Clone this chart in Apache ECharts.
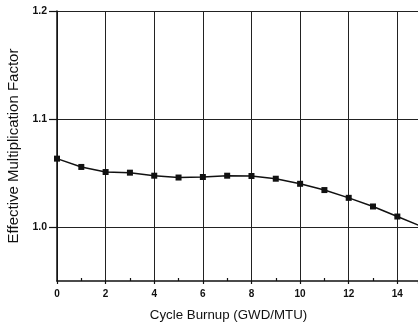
<!DOCTYPE html>
<html>
<head>
<meta charset="utf-8">
<script src="https://cdn.jsdelivr.net/npm/echarts@6/dist/echarts.min.js"></script>
<style>
  html, body { margin: 0; padding: 0; background: #fff; }
  #chart { width: 418px; height: 328px; }
</style>
</head>
<body>
<div id="chart"></div>
<script>
// cycle burnup (GWD/MTU) and effective multiplication factor
const burnup = [0, 1, 2, 3, 4, 5, 6, 7, 8, 9, 10, 11, 12, 13, 14, 15]
const keff = [1.0633, 1.0556, 1.0509, 1.0503, 1.0475, 1.0458, 1.0463, 1.0475, 1.0472,
  1.0447, 1.0400, 1.0342, 1.0270, 1.0190, 1.0097, 1.0005]
const yTicks = [1.0, 1.1, 1.2]

const ink = '#111'
const font = 'Liberation Sans, Arial, sans-serif'

const chart = echarts.init(document.getElementById('chart'), null, { renderer: 'canvas' })

chart.setOption({
  animation: false,
  backgroundColor: '#fff',
  grid: { left: 57, right: 0, top: 11, bottom: 47, outerBoundsMode: 'none', containLabel: false },
  xAxis: {
    type: 'value',
    min: 0,
    max: 14.85,
    interval: 2,
    name: 'Cycle Burnup (GWD/MTU)',
    nameLocation: 'middle',
    nameGap: 28,
    nameTextStyle: { color: ink, fontFamily: font, fontSize: 13.3, padding: [0, 18, 0, 0] },
    axisLine: { onZero: false, lineStyle: { color: ink, width: 1.5 } },
    axisTick: { length: 3, lineStyle: { color: ink, width: 1.2 } },
    minorTick: { show: true, splitNumber: 2, length: -3, lineStyle: { color: ink, width: 1.2 } },
    axisLabel: {
      color: ink, fontFamily: font, fontWeight: 'bold', fontSize: 10, margin: 8,
      showMaxLabel: false,
    },
    splitLine: { show: true, lineStyle: { color: '#222', width: 1 } },
  },
  yAxis: {
    type: 'value',
    min: 0.95,
    max: 1.2,
    name: 'Effective Multiplication Factor',
    nameLocation: 'middle',
    nameGap: 32,
    nameRotate: 90,
    nameTextStyle: { color: ink, fontFamily: font, fontSize: 15 },
    axisLine: { onZero: false, lineStyle: { color: ink, width: 1.5 } },
    axisTick: { customValues: yTicks, length: 8, lineStyle: { color: ink, width: 1.2 } },
    axisLabel: {
      customValues: yTicks,
      color: ink,
      fontFamily: font,
      fontWeight: 'bold',
      fontSize: 10.5,
      margin: 10,
      formatter: (v) => v.toFixed(1),
    },
    splitLine: { show: true, lineStyle: { color: '#222', width: 1 } },
  },
  series: [
    {
      type: 'line',
      data: burnup.map((b, i) => [b, keff[i]]),
      symbol: 'rect',
      symbolSize: 6,
      clip: true,
      lineStyle: { color: ink, width: 1.5 },
      itemStyle: { color: ink },
    },
  ],
})
</script>
</body>
</html>
